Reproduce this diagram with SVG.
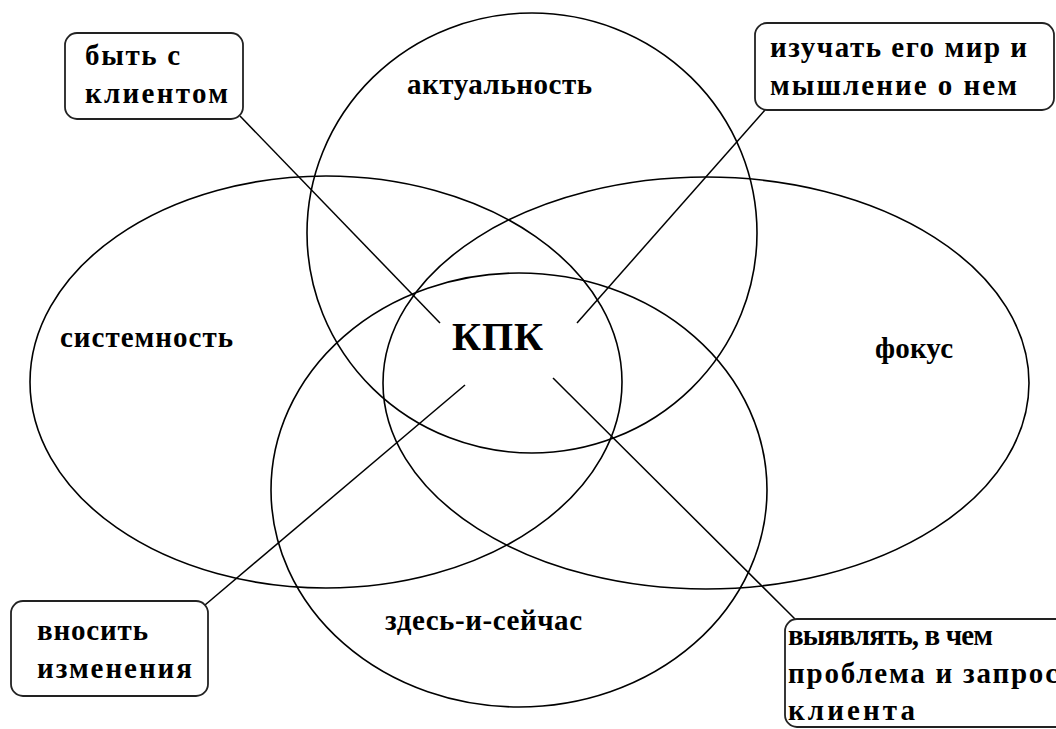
<svg xmlns="http://www.w3.org/2000/svg" width="1056" height="729" viewBox="0 0 1056 729">
<style>
.ring{fill:none;stroke:#000;stroke-width:1.6}
.box{fill:#fff;stroke:#222;stroke-width:1.8}
.lead{stroke:#000;stroke-width:1.5;fill:none}
.t{font-family:"Liberation Serif","Times New Roman",serif;font-weight:bold;font-size:29px;fill:#000}
.big{font-family:"Liberation Serif","Times New Roman",serif;font-weight:bold;font-size:40px;fill:#000}
</style>
<rect width="1056" height="729" fill="#fff"/>
<g id="ellipses">
<g id="aktualnost"><ellipse class="ring" cx="532" cy="233" rx="225" ry="220"/><text class="t" x="407" y="94" textLength="185">актуальность</text></g>
<g id="sistemnost"><ellipse class="ring" cx="326" cy="382" rx="296" ry="206"/><text class="t" x="60" y="347" textLength="173">системность</text></g>
<g id="fokus"><ellipse class="ring" cx="706" cy="383" rx="323" ry="206"/><text class="t" x="875" y="358" textLength="78">фокус</text></g>
<g id="zdes"><ellipse class="ring" cx="519" cy="490" rx="248" ry="217"/><text class="t" x="385" y="630" textLength="197">здесь-и-сейчас</text></g>
</g>
<g id="connectors">
<line class="lead" x1="240" y1="116" x2="440" y2="323"/>
<line class="lead" x1="765" y1="110" x2="577" y2="323"/>
<line class="lead" x1="205" y1="605" x2="465" y2="385"/>
<line class="lead" x1="553" y1="378" x2="795" y2="619"/>
</g>
<g id="kpk"><text class="big" x="452" y="350" textLength="91">КПК</text></g>
<g id="box1"><rect class="box" x="65" y="33" width="178" height="86" rx="12"/><text class="t" x="85" y="65" textLength="95">быть с</text><text class="t" x="85" y="103" textLength="143">клиентом</text></g>
<g id="box2"><rect class="box" x="755" y="23" width="299" height="87" rx="12"/><text class="t" x="770" y="57" textLength="257">изучать его мир и</text><text class="t" x="770" y="95" textLength="247">мышление о нем</text></g>
<g id="box3"><rect class="box" x="11" y="601" width="197" height="95" rx="12"/><text class="t" x="37" y="640" textLength="111">вносить</text><text class="t" x="37" y="678" textLength="155">изменения</text></g>
<g id="box4"><rect class="box" x="785" y="619" width="300" height="108" rx="12"/><text class="t" x="788" y="645" textLength="205">выявлять, в чем</text><text class="t" x="788" y="683" textLength="270">проблема и запрос</text><text class="t" x="788" y="720" textLength="127">клиента</text></g>
</svg>
